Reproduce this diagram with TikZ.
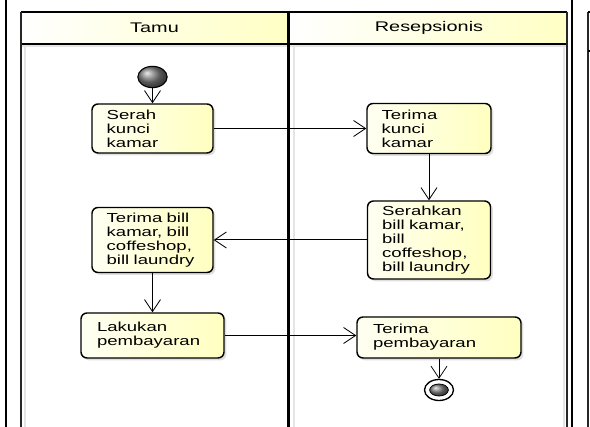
\documentclass[tikz,border=0pt]{standalone}
\usepackage{fontspec}
\setmainfont{Liberation Sans}[FakeStretch=1.42]
\usetikzlibrary{shapes.geometric, arrows.meta, shadows}

\definecolor{laneyellow}{RGB}{255,255,196}
\definecolor{boxyellow}{RGB}{255,255,192}
\definecolor{boxcream}{RGB}{255,255,242}

\tikzset{
  actbox/.style={draw, line width=1.1pt, rounded corners=4.5pt, align=left,
    inner xsep=11pt, inner ysep=1pt, left color=boxcream, right color=boxyellow,
    font=\fontsize{9.8}{10.5}\selectfont,
    drop shadow={shadow xshift=1.8pt, shadow yshift=-1.8pt, opacity=0.25}},
  flow/.style={line width=0.75pt, -{Straight Barb[length=9pt, width=12pt, line width=0.6pt]}},
  lanebar/.style={line width=1.6pt, draw=black!85},
  laneshade/.style={line width=1.5pt, draw=black!10},
  lanetitle/.style={font=\fontsize{10.5}{12}\selectfont},
}

\begin{document}
\begin{tikzpicture}[x=0.75pt,y=0.75pt,yscale=-1,xscale=1]
\useasboundingbox (0,0) rectangle (590,427);

% page frame
\draw [line width=1.8pt] (6,0) -- (6,427);
\draw [line width=1.8pt] (572,0) -- (572,427);

% lane headers
\fill [left color=white, right color=laneyellow] (21,12) rectangle (288,44);
\fill [left color=white, right color=laneyellow] (291,12) rectangle (567,44);
\node [lanetitle] (tamu) at (154.5,28) {Tamu};
\node [lanetitle] (resep) at (429,28) {Resepsionis};

% lane shading
\draw [laneshade] (24.5,46) -- (24.5,427);
\draw [laneshade] (293.5,46) -- (293.5,427);
\draw [laneshade] (564,46) -- (564,427);
\draw [laneshade] (21,46.5) -- (567,46.5);

% lane borders
\draw [line width=1pt] (21,12) -- (567,12);
\draw [line width=1pt] (21,44) -- (567,44);
\draw [lanebar] (21,12) -- (21,427);
\draw [line width=2.2pt] (288.5,12) -- (288.5,427);
\draw [lanebar] (567,12) -- (567,427);

% edge of the next lane
\draw [lanebar] (588,12) -- (588,427);
\draw [line width=1pt] (588,12) -- (590,12);
\draw [line width=1pt] (588,51) -- (590,51);

% start and end
\node [ellipse, draw, line width=0.8pt, ball color=black!50, minimum width=22pt, minimum height=16pt, inner sep=0pt] (start) at (152.5,77) {};
\node [ellipse, draw, line width=1pt, fill=white, minimum width=21.75pt, minimum height=15.75pt, inner sep=0pt] (finish) at (439,390) {};
\node [ellipse, draw, line width=0.6pt, ball color=black!50, minimum width=14pt, minimum height=9pt, inner sep=0pt] (finishdot) at (finish) {};

% activities
\node [actbox, text width=68.75pt, minimum height=36.75pt] (serah) at (152.5,128.5) {Serah\\kunci\\kamar};
\node [actbox, text width=71pt, minimum height=37.5pt] (tkunci) at (429,128.5) {Terima\\kunci\\kamar};
\node [actbox, text width=70.25pt, minimum height=58.5pt] (serahkan) at (429,240) {Serahkan\\bill kamar,\\bill\\coffeshop,\\bill laundry};
\node [actbox, text width=68.75pt, minimum height=48.75pt] (tbill) at (152.5,240) {Terima bill\\kamar, bill\\coffeshop,\\bill laundry};
\node [actbox, inner xsep=12pt, text width=83.25pt, minimum height=33.75pt] (lakukan) at (152.5,335.5) {Lakukan\\pembayaran};
\node [actbox, inner xsep=12pt, text width=99pt, minimum height=30.75pt] (tbayar) at (439,337.5) {Terima\\pembayaran};

% flows
\draw [flow] (start) -- (serah);
\draw [flow] (serah) -- (tkunci);
\draw [flow] (tkunci) -- (serahkan);
\draw [flow] (serahkan) -- (tbill);
\draw [flow] (tbill) -- (lakukan);
\draw [flow] (lakukan.east) -- (lakukan.east -| tbayar.west);
\draw [flow] (tbayar) -- (finish);

\end{tikzpicture}
\end{document}
